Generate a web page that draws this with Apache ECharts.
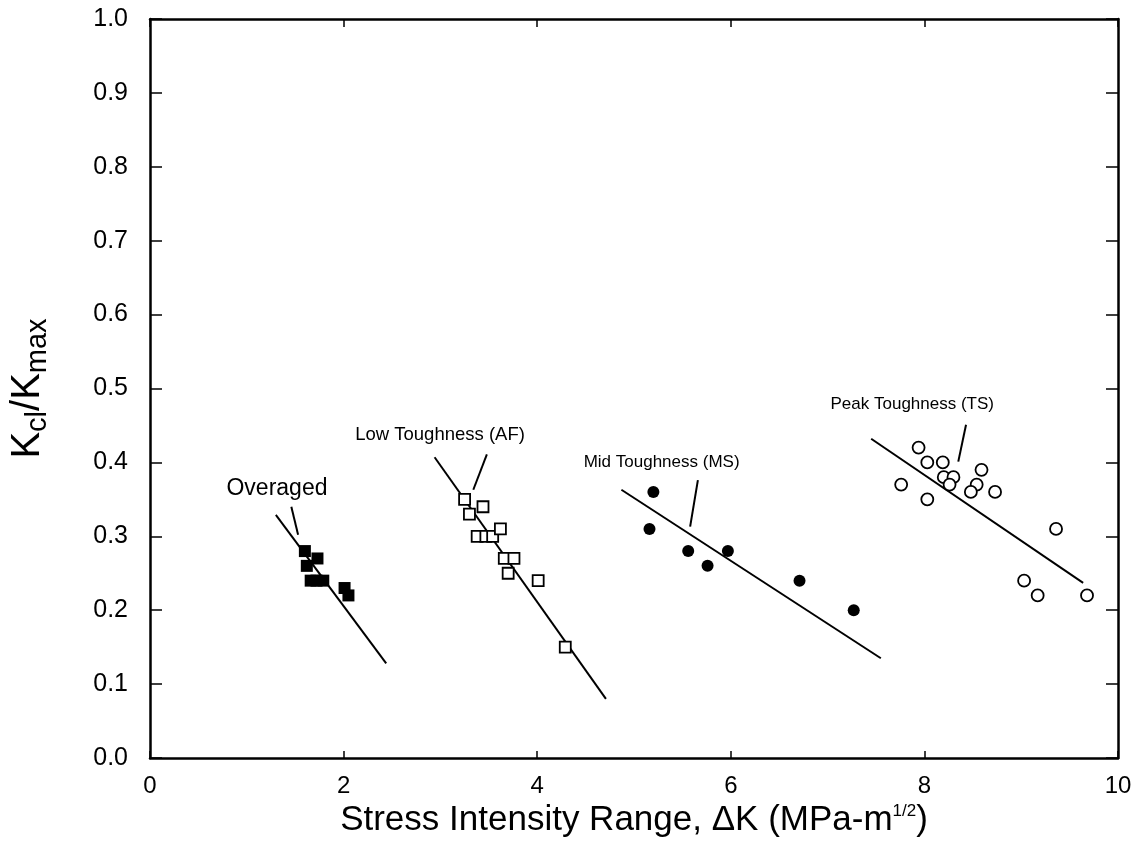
<!DOCTYPE html>
<html>
<head>
<meta charset="utf-8">
<script src="https://cdn.jsdelivr.net/npm/echarts@6/dist/echarts.min.js"></script>
<style>
html,body{margin:0;padding:0;background:#fff;}
#chart{width:1144px;height:855px;}
</style>
</head>
<body>
<div id="chart"></div>
<script>
// ---- data (x = ΔK, y = Kcl/Kmax) ----
const overagedPts = [[1.60,0.28],[1.73,0.27],[1.62,0.26],[1.66,0.24],[1.72,0.24],[1.79,0.24],[2.01,0.23],[2.05,0.22]];
const lowPts = [[3.25,0.35],[3.44,0.34],[3.30,0.33],[3.38,0.30],[3.47,0.30],[3.54,0.30],[3.62,0.31],[3.66,0.27],[3.76,0.27],[3.70,0.25],[4.01,0.24],[4.29,0.15]];
const midPts = [[5.16,0.31],[5.20,0.36],[5.56,0.28],[5.76,0.26],[5.97,0.28],[6.71,0.24],[7.27,0.20]];
const peakPts = [[7.94,0.42],[8.03,0.40],[8.19,0.40],[8.20,0.38],[8.30,0.38],[8.26,0.37],[8.59,0.39],[8.54,0.37],[8.48,0.36],[8.73,0.36],[7.76,0.37],[8.03,0.35],[9.36,0.31],[9.03,0.24],[9.17,0.22],[9.68,0.22]];

const overagedFit = [[1.30,0.329],[2.44,0.128]];
const lowFit = [[2.94,0.407],[4.71,0.080]];
const midFit = [[4.87,0.363],[7.55,0.135]];
const peakFit = [[7.45,0.432],[9.64,0.237]];

const leaderLines = [
  [[1.46,0.340],[1.53,0.302]],
  [[3.48,0.411],[3.34,0.363]],
  [[5.66,0.376],[5.58,0.313]],
  [[8.43,0.451],[8.35,0.401]]
];
const labelTexts = ['Overaged','Low Toughness (AF)','Mid Toughness (MS)','Peak Toughness (TS)'];
const labelPos = [[0.79,0.365],[2.12,0.437],[4.48,0.400],[7.03,0.479]];
const labelSizes = [23,18.5,17,17];

const xTicks = [0,2,4,6,8,10];
const yTicks = [0,0.1,0.2,0.3,0.4,0.5,0.6,0.7,0.8,0.9,1.0];

const FONT = '"Liberation Sans", Arial, Helvetica, sans-serif';
const chart = echarts.init(document.getElementById('chart'));

function lineSeries(d, w){
  return {type:'line', data:d, symbol:'none', silent:true, xAxisIndex:0, yAxisIndex:0,
    lineStyle:{color:'#000', width:w, opacity:1}, z:3, animation:false};
}

const series = [
  {type:'scatter', data:overagedPts, symbol:'rect', symbolSize:12,
   itemStyle:{color:'#000', opacity:1}, z:5},
  {type:'scatter', data:lowPts, symbol:'rect', symbolSize:11,
   itemStyle:{color:'#fff', borderColor:'#000', borderWidth:1.8, opacity:1}, z:5},
  {type:'scatter', data:midPts, symbol:'circle', symbolSize:12,
   itemStyle:{color:'#000', opacity:1}, z:5},
  {type:'scatter', data:peakPts, symbol:'circle', symbolSize:12,
   itemStyle:{color:'#fff', borderColor:'#000', borderWidth:1.8, opacity:1}, z:5},
  lineSeries(overagedFit,2), lineSeries(lowFit,2), lineSeries(midFit,2), lineSeries(peakFit,2)
];
leaderLines.forEach(l => series.push(lineSeries(l,2)));
series.push({
  type:'scatter', symbolSize:0, silent:true, z:6,
  itemStyle:{opacity:1},
  data: labelPos.map((p,i)=>({value:p, label:{formatter:labelTexts[i], fontSize:labelSizes[i]}})),
  label:{show:true, position:'inside', align:'left', verticalAlign:'middle',
    color:'#000', opacity:1, fontFamily:FONT}
});

chart.setOption({
  animation:false,
  backgroundColor:'#fff',
  grid:{left:148, right:26, top:19, bottom:97},
  xAxis:[{
    type:'value', min:0, max:10, interval:2,
    axisLine:{show:true, onZero:false, lineStyle:{color:'#000', width:2.5}},
    axisTick:{show:true, inside:true, length:7, lineStyle:{color:'#000', width:1.5}},
    axisLabel:{color:'#000', fontFamily:FONT, fontSize:24, margin:16},
    splitLine:{show:false},
    name:'{a|Stress Intensity Range, ΔK (MPa-m}{s|1/2}{a|)}',
    nameLocation:'middle', nameGap:28,
    nameTextStyle:{rich:{
      a:{fontFamily:FONT, fontSize:35, color:'#000'},
      s:{fontFamily:FONT, fontSize:17, color:'#000', verticalAlign:'top', padding:[0,0,18,0]}
    }}
  },{
    type:'value', min:0, max:10, interval:2, position:'top',
    axisLine:{show:true, onZero:false, lineStyle:{color:'#000', width:2.5}},
    axisTick:{show:true, inside:true, length:8, lineStyle:{color:'#000', width:1.5}},
    axisLabel:{show:false}, splitLine:{show:false}
  }],
  yAxis:[{
    type:'value', min:0, max:1, interval:0.1,
    axisLine:{show:true, onZero:false, lineStyle:{color:'#000', width:2.5}},
    axisTick:{show:true, inside:true, length:12, lineStyle:{color:'#000', width:1.5}},
    axisLabel:{color:'#000', fontFamily:FONT, fontSize:25, margin:22, formatter:v=>v.toFixed(1)},
    splitLine:{show:false},
    name:'{a|K}{b|cl}{a|/K}{b|max}',
    nameLocation:'middle', nameGap:98, nameRotate:90,
    nameTextStyle:{rich:{
      a:{fontFamily:FONT, fontSize:40, color:'#000'},
      b:{fontFamily:FONT, fontSize:29, color:'#000', verticalAlign:'bottom', padding:[19,0,0,0]}
    }}
  },{
    type:'value', min:0, max:1, interval:0.1, position:'right',
    axisLine:{show:true, onZero:false, lineStyle:{color:'#000', width:2.5}},
    axisTick:{show:true, inside:true, length:12, lineStyle:{color:'#000', width:1.5}},
    axisLabel:{show:false}, splitLine:{show:false}
  }],
  series: series
});
</script>
</body>
</html>
